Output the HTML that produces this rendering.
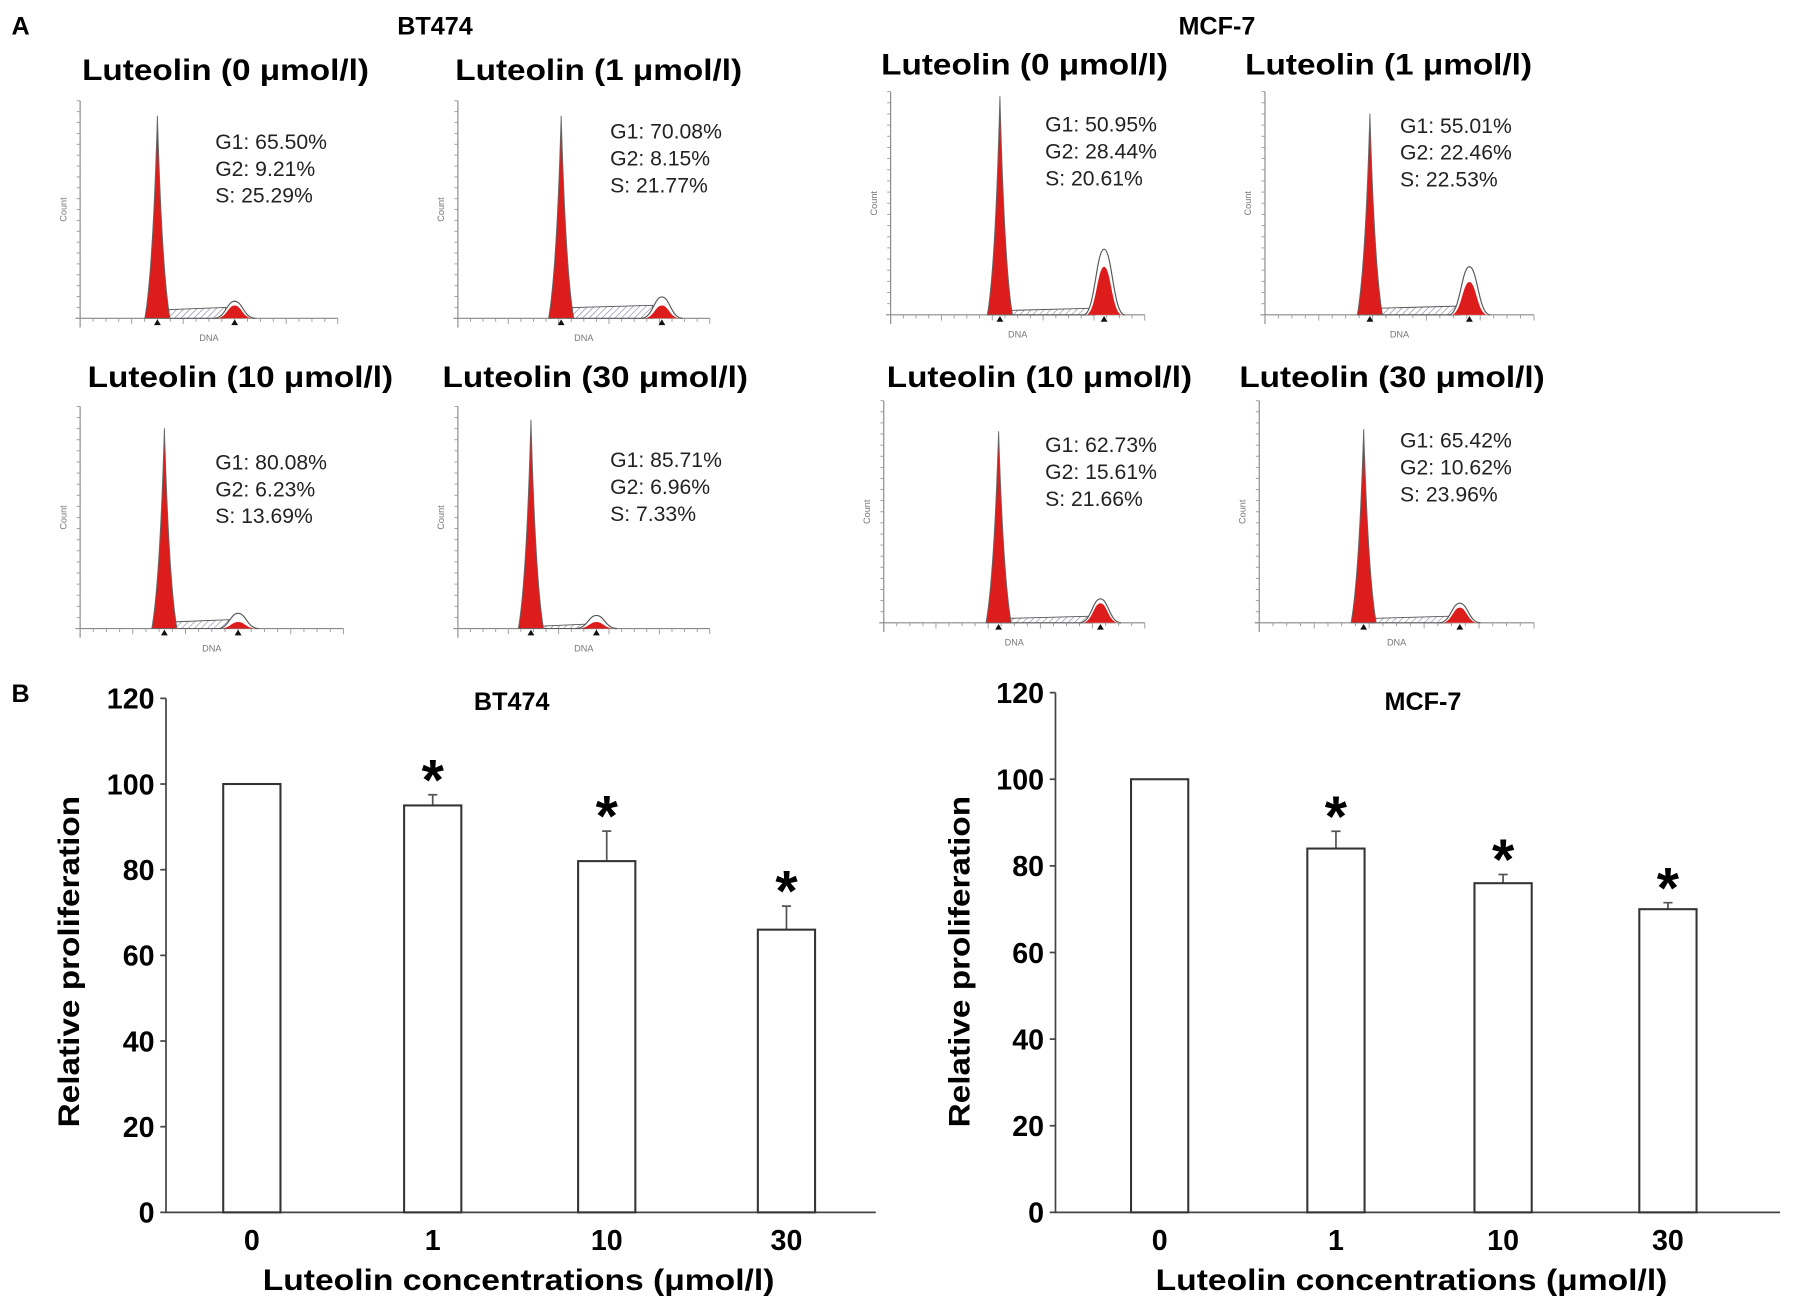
<!DOCTYPE html>
<html><head><meta charset="utf-8"><style>
html,body{margin:0;padding:0;background:#fff;}
svg{display:block;font-family:"Liberation Sans",Arial,sans-serif;}
</style></head><body>
<svg id="fig" width="1795" height="1312" viewBox="0 0 1568 1146" xmlns="http://www.w3.org/2000/svg">
<defs><pattern id="hatch" width="4" height="4" patternUnits="userSpaceOnUse" patternTransform="rotate(45)"><line x1="0" y1="0" x2="0" y2="4" stroke="#7a7aa0" stroke-width="1"/></pattern></defs>
<text x="10" y="30" font-size="22" font-weight="bold">A</text>
<text x="10" y="613" font-size="22" font-weight="bold">B</text>
<text x="380" y="30" font-size="22" font-weight="bold" text-anchor="middle">BT474</text>
<text x="1063" y="30" font-size="22" font-weight="bold" text-anchor="middle">MCF-7</text>
<g id="hists"></g>
<g id="bars"></g>
</svg>
<script>
// ---- histogram panel data ----
const histTitles = ["Luteolin (0 μmol/l)","Luteolin (1 μmol/l)","Luteolin (0 μmol/l)","Luteolin (1 μmol/l)","Luteolin (10 μmol/l)","Luteolin (30 μmol/l)","Luteolin (10 μmol/l)","Luteolin (30 μmol/l)"];
const histG1 = ["65.50","70.08","50.95","55.01","80.08","85.71","62.73","65.42"];
const histG2 = ["9.21","8.15","28.44","22.46","6.23","6.96","15.61","10.62"];
const histS = ["25.29","21.77","20.61","22.53","13.69","7.33","21.66","23.96"];
const g1PeakRel = [0.95,0.95,1.0,0.92,0.92,0.96,0.88,0.89];
const g2PeakRel = [0.08,0.10,0.30,0.22,0.07,0.06,0.11,0.09];
const g2RedRel = [0.06,0.06,0.22,0.15,0.03,0.03,0.09,0.07];
const sLevelRel = [0.04,0.05,0.02,0.03,0.03,0.01,0.02,0.02];
const g1Pos = [0.30,0.41,0.43,0.39,0.32,0.29,0.44,0.38];
const g2Pos = [0.60,0.81,0.84,0.76,0.60,0.55,0.83,0.73];

const panels=[
 {x0:70,x1:295,top:88,base:278,tx:197,ty:70,sx:188,sy:130},
 {x0:400,x1:620,top:88,base:278,tx:523,ty:70,sx:533,sy:121},
 {x0:778,x1:1000,top:80,base:275,tx:895,ty:65,sx:913,sy:115},
 {x0:1105,x1:1340,top:80,base:275,tx:1213,ty:65,sx:1223,sy:116},
 {x0:70,x1:300,top:355,base:549,tx:210,ty:338,sx:188,sy:410},
 {x0:400,x1:620,top:355,base:549,tx:520,ty:338,sx:533,sy:408},
 {x0:772,x1:1000,top:350,base:544,tx:908,ty:338,sx:913,sy:395},
 {x0:1100,x1:1340,top:350,base:544,tx:1216,ty:338,sx:1223,sy:391}
];
const NS="http://www.w3.org/2000/svg";
function mk(tag,attrs,parent){const e=document.createElementNS(NS,tag);for(const k in attrs)e.setAttribute(k,attrs[k]);parent.appendChild(e);return e;}
function widen(t,f){const L=t.getComputedTextLength();t.setAttribute('textLength',(L*f).toFixed(1));t.setAttribute('lengthAdjust','spacingAndGlyphs');}
const H=document.getElementById('hists');
panels.forEach((p,i)=>{
  const g=mk('g',{},H);
  
  
  const W=p.x1-p.x0, Ht=p.base-p.top;
  const X=f=>p.x0+f*W, Y=f=>p.base-f*Ht*0.98;
  const t=mk('text',{x:p.tx,y:p.ty,'font-size':26,'font-weight':'bold','text-anchor':'middle'},g);t.textContent=histTitles[i];
  
  
  widen(t,1.12);
  const ax=mk('path',{d:`M${p.x0},${p.top}V${p.base+8}M${p.x0-4},${p.base}H${p.x1}`,stroke:'#888','stroke-width':1,fill:'none'},g);
  
  
  for(let k=0;k<=20;k++){mk('line',{x1:X(k/20),x2:X(k/20),y1:p.base,y2:p.base+(k%4==0?5:3),stroke:'#999','stroke-width':0.8},g);}
  for(let k=0;k<=20;k++){mk('line',{x1:p.x0-3,x2:p.x0,y1:p.top+k*Ht/20,y2:p.top+k*Ht/20,stroke:'#999','stroke-width':0.8},g);}
  const cl=mk('text',{x:0,y:0,'font-size':8,fill:'#777','text-anchor':'middle',transform:`translate(${p.x0-12},${(p.top+p.base)/2}) rotate(-90)`},g);cl.textContent='Count';
  
  
  const dl=mk('text',{x:X(0.5),y:p.base+20,'font-size':8,fill:'#777','text-anchor':'middle'},g);dl.textContent='DNA';
  
  
  const a=X(g1Pos[i]), b=X(g2Pos[i]), s=Y(sLevelRel[i]);
  const hs=mk('path',{d:`M${a+6},${p.base}L${a+6},${s}L${b-8},${s-2}L${b-8},${p.base}Z`,fill:'url(#hatch)',stroke:'#555','stroke-width':0.8},g);
  
  
  const yp=Y(g2PeakRel[i]), yr=Y(g2RedRel[i]);
  const o2=mk('path',{d:`M${b-18},${p.base}C${b-8},${p.base} ${b-7},${yp} ${b},${yp}C${b+7},${yp} ${b+8},${p.base} ${b+18},${p.base}`,fill:'#fff',stroke:'#555','stroke-width':1},g);
  
  
  const r2=mk('path',{d:`M${b-16},${p.base}C${b-7},${p.base} ${b-6},${yr} ${b},${yr}C${b+6},${yr} ${b+7},${p.base} ${b+16},${p.base}Z`,fill:'#dd1c1c'},g);
  
  
  const r1=mk('path',{d:`M${a-11},${p.base}Q${a-4},${p.base-40} ${a},${Y(g1PeakRel[i])}Q${a+4},${p.base-40} ${a+11},${p.base}Z`,fill:'#dd1c1c',stroke:'#666','stroke-width':0.8},g);
  
  
  [a,b].forEach(m=>{const tri=mk('path',{d:`M${m-3},${p.base+6}L${m+3},${p.base+6}L${m},${p.base+1}Z`,fill:'#111'},g);
    
    });
  [['G1: ',histG1[i]],['G2: ',histG2[i]],['S: ',histS[i]]].forEach((r,j)=>{
    const st=mk('text',{x:p.sx,y:p.sy+j*23.5,'font-size':18.5,fill:'#222'},g);st.textContent=r[0]+r[1]+'%';
    
    
  });
});

// ---- bar chart data ----
const barCats = ["0","1","10","30"];
const bt474Vals = [100,95,82,66];
const bt474Err = [0,2.5,7,5.5];
const mcf7Vals = [100,84,76,70];
const mcf7Err = [0,4,2,1.5];
const yTicks = [0,20,40,60,80,100,120];
const sigFlags = [false,true,true,true];

const charts=[
 {name:'bt474',title:'BT474',vals:bt474Vals,err:bt474Err,ax:145,ax2:765,y0:1059,y120:610,cx:[220,378,530,687],tx:447,ytx:60,xtx:453},
 {name:'mcf7',title:'MCF-7',vals:mcf7Vals,err:mcf7Err,ax:922,ax2:1555,y0:1059,y120:605,cx:[1013,1167,1313,1457],tx:1243,ytx:838,xtx:1233}
];
const B=document.getElementById('bars');
charts.forEach(c=>{
  const g=mk('g',{},B);
  
  
  const y=v=>c.y0-(v/120)*(c.y0-c.y120);
  const ax=mk('path',{d:`M${c.ax},${y(120)}V${c.y0}H${c.ax2}`,stroke:'#444','stroke-width':1.5,fill:'none'},g);
  
  
  yTicks.forEach(t=>{
    mk('line',{x1:c.ax-5,x2:c.ax,y1:y(t),y2:y(t),stroke:'#444','stroke-width':1.5},g);
    const tl=mk('text',{x:c.ax-10,y:y(t)+9,'font-size':25,'font-weight':'bold','text-anchor':'end'},g);tl.textContent=t;
    
    
  });
  const tt=mk('text',{x:c.tx,y:620,'font-size':22,'font-weight':'bold','text-anchor':'middle'},g);tt.textContent=c.title;
  
  
  const yt=mk('text',{x:0,y:0,'font-size':26,'font-weight':'bold','text-anchor':'middle',transform:`translate(${c.ytx+9},840) rotate(-90)`},g);yt.textContent='Relative proliferation';
  
  
  widen(yt,1.12);
  const xt=mk('text',{x:c.xtx,y:1127,'font-size':26,'font-weight':'bold','text-anchor':'middle'},g);xt.textContent='Luteolin concentrations (μmol/l)';
  
  
  widen(xt,1.13);
  barCats.forEach((cat,i)=>{
    const v=c.vals[i], e=c.err[i], x=c.cx[i];
    if(e>0){const eb=mk('path',{d:`M${x},${y(v)}V${y(v+e)}M${x-4},${y(v+e)}H${x+4}`,stroke:'#555','stroke-width':1.5},g);
      
      }
    const r=mk('rect',{x:x-25,y:y(v),width:50,height:c.y0-y(v),fill:'#fff',stroke:'#333','stroke-width':1.8},g);
    
    
    const xl=mk('text',{x:x,y:1092,'font-size':25,'font-weight':'bold','text-anchor':'middle'},g);xl.textContent=cat;
    
    
    if(sigFlags[i]){const st=mk('text',{x:x,y:y(v+e)+4,'font-size':50,'font-weight':'bold','text-anchor':'middle'},g);st.textContent='*';
      
      }
  });
});
</script>
</body></html>
